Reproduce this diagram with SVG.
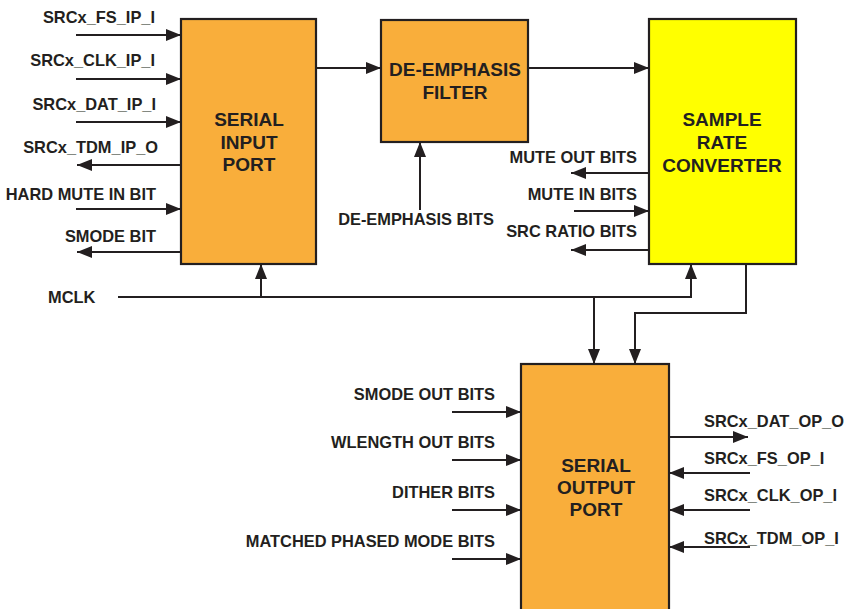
<svg xmlns="http://www.w3.org/2000/svg" width="845" height="609" viewBox="0 0 845 609">
<style>
.box{fill:#F9AE3B;stroke:#231F20;stroke-width:2.2}
.ybox{fill:#FFFF00;stroke:#231F20;stroke-width:2.2}
.lbl{font-family:"Liberation Sans",Arial,sans-serif;font-weight:bold;font-size:16.4px;fill:#231F20}
.t{font-family:"Liberation Sans",Arial,sans-serif;font-weight:bold;font-size:19px;fill:#231F20;text-anchor:middle}
.ln{fill:none;stroke:#231F20;stroke-width:2}
.ar{marker-end:url(#ah)}
</style>
<defs>
<marker id="ah" markerUnits="userSpaceOnUse" markerWidth="16" markerHeight="12" refX="15" refY="6" orient="auto">
<path d="M0,0 L15,6 L0,12 Z" fill="#231F20"/>
</marker>
</defs>
<g id="serial-input-port">
<rect class="box" x="181" y="19" width="135" height="245"/>
<text class="t" x="249" y="126">SERIAL</text>
<text class="t" x="249" y="149">INPUT</text>
<text class="t" x="249" y="171">PORT</text>
</g>
<g id="de-emphasis-filter">
<rect class="box" x="381" y="20" width="147" height="122"/>
<text class="t" x="455" y="76">DE-EMPHASIS</text>
<text class="t" x="455" y="99">FILTER</text>
</g>
<g id="sample-rate-converter">
<rect class="ybox" x="649" y="19" width="147" height="245"/>
<text class="t" x="722" y="126">SAMPLE</text>
<text class="t" x="722" y="149">RATE</text>
<text class="t" x="722" y="172">CONVERTER</text>
</g>
<g id="serial-output-port">
<rect class="box" x="521" y="364" width="148" height="250"/>
<text class="t" x="596" y="472">SERIAL</text>
<text class="t" x="596" y="494">OUTPUT</text>
<text class="t" x="596" y="516">PORT</text>
</g>
<g id="labels">
<text class="lbl" x="155" y="23" text-anchor="end">SRCx_FS_IP_I</text>
<text class="lbl" x="155" y="66" text-anchor="end">SRCx_CLK_IP_I</text>
<text class="lbl" x="156" y="110" text-anchor="end">SRCx_DAT_IP_I</text>
<text class="lbl" x="158" y="153" text-anchor="end">SRCx_TDM_IP_O</text>
<text class="lbl" x="156" y="200" text-anchor="end">HARD MUTE IN BIT</text>
<text class="lbl" x="156" y="242" text-anchor="end">SMODE BIT</text>
<text class="lbl" x="48" y="303">MCLK</text>
<text class="lbl" x="416" y="225" text-anchor="middle">DE-EMPHASIS BITS</text>
<text class="lbl" x="637" y="163" text-anchor="end">MUTE OUT BITS</text>
<text class="lbl" x="637" y="200" text-anchor="end">MUTE IN BITS</text>
<text class="lbl" x="637" y="237" text-anchor="end">SRC RATIO BITS</text>
<text class="lbl" x="495" y="400" text-anchor="end">SMODE OUT BITS</text>
<text class="lbl" x="495" y="448" text-anchor="end">WLENGTH OUT BITS</text>
<text class="lbl" x="495" y="498" text-anchor="end">DITHER BITS</text>
<text class="lbl" x="495" y="547" text-anchor="end">MATCHED PHASED MODE BITS</text>
<text class="lbl" x="704" y="427">SRCx_DAT_OP_O</text>
<text class="lbl" x="704" y="464">SRCx_FS_OP_I</text>
<text class="lbl" x="704" y="501">SRCx_CLK_OP_I</text>
<text class="lbl" x="704" y="544">SRCx_TDM_OP_I</text>
</g>
<g id="connectors">
<line class="ln ar" x1="76" y1="35" x2="181" y2="35"/>
<line class="ln ar" x1="76" y1="79" x2="181" y2="79"/>
<line class="ln ar" x1="76" y1="122" x2="181" y2="122"/>
<line class="ln ar" x1="181" y1="165" x2="77" y2="165"/>
<line class="ln ar" x1="76" y1="209" x2="181" y2="209"/>
<line class="ln ar" x1="181" y1="252" x2="77" y2="252"/>
<line class="ln ar" x1="316" y1="68" x2="381" y2="68"/>
<line class="ln ar" x1="528" y1="68" x2="649" y2="68"/>
<line class="ln ar" x1="420" y1="210" x2="420" y2="142"/>
<line class="ln ar" x1="649" y1="173" x2="571" y2="173"/>
<line class="ln ar" x1="574" y1="211" x2="649" y2="211"/>
<line class="ln ar" x1="649" y1="250" x2="571" y2="250"/>
<polyline class="ln" points="118,297 594,297"/>
<line class="ln ar" x1="261" y1="297" x2="261" y2="264"/>
<polyline class="ln ar" points="594,297 691,297 691,264"/>
<line class="ln ar" x1="594" y1="297" x2="594" y2="364"/>
<polyline class="ln ar" points="746,264 746,313 635,313 635,364"/>
<line class="ln ar" x1="452" y1="412" x2="521" y2="412"/>
<line class="ln ar" x1="452" y1="460" x2="521" y2="460"/>
<line class="ln ar" x1="452" y1="510" x2="521" y2="510"/>
<line class="ln ar" x1="452" y1="559" x2="521" y2="559"/>
<line class="ln ar" x1="669" y1="437" x2="748" y2="437"/>
<line class="ln ar" x1="750" y1="473" x2="669" y2="473"/>
<line class="ln ar" x1="750" y1="510" x2="669" y2="510"/>
<line class="ln ar" x1="750" y1="547" x2="669" y2="547"/>
</g>
</svg>
